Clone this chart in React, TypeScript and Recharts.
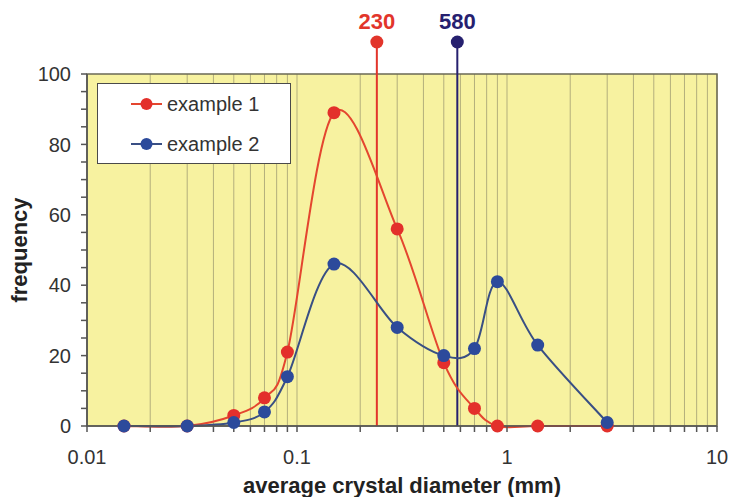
import React from 'react'
import {
  LineChart,
  Line,
  XAxis,
  YAxis,
  CartesianGrid,
  ReferenceLine,
  ReferenceArea,
  Legend,
} from 'recharts'

// crystal size classes (mm)
const diameters = [0.015, 0.03, 0.05, 0.07, 0.09, 0.15, 0.3, 0.5, 0.7, 0.9, 1.4, 3]
const example1 = [0, 0, 3, 8, 21, 89, 56, 18, 5, 0, 0, 0]
const example2 = [0, 0, 1, 4, 14, 46, 28, 20, 22, 41, 23, 1]

// mean sizes marked above the plot
const markerPositions = [0.24, 0.58]
const markerLabels = ['230', '580']

const xTicks = [
  0.01, 0.02, 0.03, 0.04, 0.05, 0.06, 0.07, 0.08, 0.09,
  0.1, 0.2, 0.3, 0.4, 0.5, 0.6, 0.7, 0.8, 0.9,
  1, 2, 3, 4, 5, 6, 7, 8, 9, 10,
]
const xLabelTicks = [0.01, 0.1, 1, 10]
const yTicks = [0, 5, 10, 15, 20, 25, 30, 35, 40, 45, 50, 55, 60, 65, 70, 75, 80, 85, 90, 95, 100]

const seriesNames = ['example 1', 'example 2']

const RED = '#e3302b'
const RED_LINE = '#e4462f'
const BLUE = '#2c4a9b'
const BLUE_LINE = '#394f84'
const NAVY = '#26206f'
const FONT = '"Liberation Sans", Arial, sans-serif'

const data = diameters.map((d, i) => ({ d, ex1: example1[i], ex2: example2[i] }))

// Excel-style smoothed line (Bezier through the points, tangent/6)
const smoothCurve = (ctx: any) => {
  let pts: number[][] = []
  return {
    areaStart() {},
    areaEnd() {},
    lineStart() {
      pts = []
    },
    point(x: number, y: number) {
      pts.push([+x, +y])
    },
    lineEnd() {
      if (!pts.length) return
      ctx.moveTo(pts[0][0], pts[0][1])
      for (let i = 0; i < pts.length - 1; i++) {
        const p0 = pts[i - 1] || pts[i]
        const p1 = pts[i]
        const p2 = pts[i + 1]
        const p3 = pts[i + 2] || p2
        ctx.bezierCurveTo(
          p1[0] + (p2[0] - p0[0]) / 6,
          p1[1] + (p2[1] - p0[1]) / 6,
          p2[0] - (p3[0] - p1[0]) / 6,
          p2[1] - (p3[1] - p1[1]) / 6,
          p2[0],
          p2[1]
        )
      }
    },
  }
}

const markerShape = (color: string, label: string) => (p: any) => {
  const top = Math.min(p.y1, p.y2)
  const bottom = Math.max(p.y1, p.y2)
  return (
    <g>
      <line x1={p.x1} x2={p.x1} y1={bottom} y2={top - 32} stroke={color} strokeWidth={2} />
      <circle cx={p.x1} cy={top - 32} r={6.5} fill={color} />
      <text
        x={p.x1}
        y={top - 45}
        textAnchor="middle"
        fill={color}
        fontSize={22}
        fontWeight="bold"
        fontFamily={FONT}
      >
        {label}
      </text>
    </g>
  )
}

const LegendBox = () => {
  const colors = [
    [RED_LINE, RED],
    [BLUE_LINE, BLUE],
  ]
  return (
    <div
      style={{
        boxSizing: 'border-box',
        width: 194,
        height: 81,
        background: '#fff',
        border: '1.5px solid #4a4a4a',
        fontFamily: FONT,
        fontSize: 20,
        color: '#333',
      }}
    >
      {seriesNames.map((name, i) => (
        <div key={name} style={{ display: 'flex', alignItems: 'center', height: 40, paddingLeft: 33 }}>
          <svg width={31} height={14} style={{ marginRight: 5 }}>
            <line x1={0} x2={31} y1={7} y2={7} stroke={colors[i][0]} strokeWidth={2} />
            <circle cx={15.5} cy={7} r={6} fill={colors[i][1]} />
          </svg>
          <span>{name}</span>
        </div>
      ))}
    </div>
  )
}

export default function App() {
  const tickStyle = { fill: '#333', fontSize: 20, fontFamily: FONT }
  return (
    <div style={{ width: 729, height: 497, background: '#fff' }}>
      <style>{'body{margin:0}'}</style>
      <LineChart width={729} height={497} data={data} margin={{ top: 74, right: 12, bottom: 0, left: 0 }}>
        <CartesianGrid horizontal={false} stroke="#b3af7c" fill="#f7f2a0" fillOpacity={1} />
        <XAxis
          dataKey="d"
          type="number"
          scale="log"
          domain={[0.01, 10]}
          ticks={xTicks}
          interval={0}
          allowDataOverflow
          height={71}
          tick={tickStyle}
          tickSize={6}
          tickMargin={18}
          tickFormatter={(v: number) => (xLabelTicks.includes(v) ? String(v) : '')}
          stroke="#555"
          strokeWidth={1.5}
          label={{
            value: 'average crystal diameter (mm)',
            position: 'insideBottom',
            offset: 4,
            style: { fontSize: 22, fontWeight: 'bold', fill: '#222', fontFamily: FONT },
          }}
        />
        <YAxis
          type="number"
          domain={[0, 100]}
          ticks={yTicks}
          interval={0}
          width={87}
          tick={tickStyle}
          tickSize={6}
          tickMargin={10}
          tickFormatter={(v: number) => (v % 20 === 0 ? String(v) : '')}
          stroke="#555"
          strokeWidth={1.5}
          label={{
            value: 'frequency',
            angle: -90,
            position: 'insideLeft',
            offset: 19,
            style: { textAnchor: 'middle', fontSize: 22, fontWeight: 'bold', fill: '#222', fontFamily: FONT },
          }}
        />
        <ReferenceArea x1={0.01} x2={10} y1={0} y2={100} fill="none" stroke="#6b6a55" strokeWidth={1.5} />
        <ReferenceLine
          x={markerPositions[0]}
          ifOverflow="visible"
          shape={markerShape('#e2352b', markerLabels[0])}
        />
        <ReferenceLine
          x={markerPositions[1]}
          ifOverflow="visible"
          shape={markerShape(NAVY, markerLabels[1])}
        />
        <Legend
          content={() => <LegendBox />}
          layout="vertical"
          align="center"
          verticalAlign="middle"
          wrapperStyle={{ left: 97, top: 83, width: 194, height: 81 }}
        />
        <Line
          name={seriesNames[0]}
          dataKey="ex1"
          type={smoothCurve as any}
          stroke={RED_LINE}
          strokeWidth={2}
          dot={{ r: 6.5, fill: RED, stroke: 'none' }}
          activeDot={false}
          isAnimationActive={false}
        />
        <Line
          name={seriesNames[1]}
          dataKey="ex2"
          type={smoothCurve as any}
          stroke={BLUE_LINE}
          strokeWidth={2}
          dot={{ r: 6.5, fill: BLUE, stroke: 'none' }}
          activeDot={false}
          isAnimationActive={false}
        />
      </LineChart>
    </div>
  )
}
